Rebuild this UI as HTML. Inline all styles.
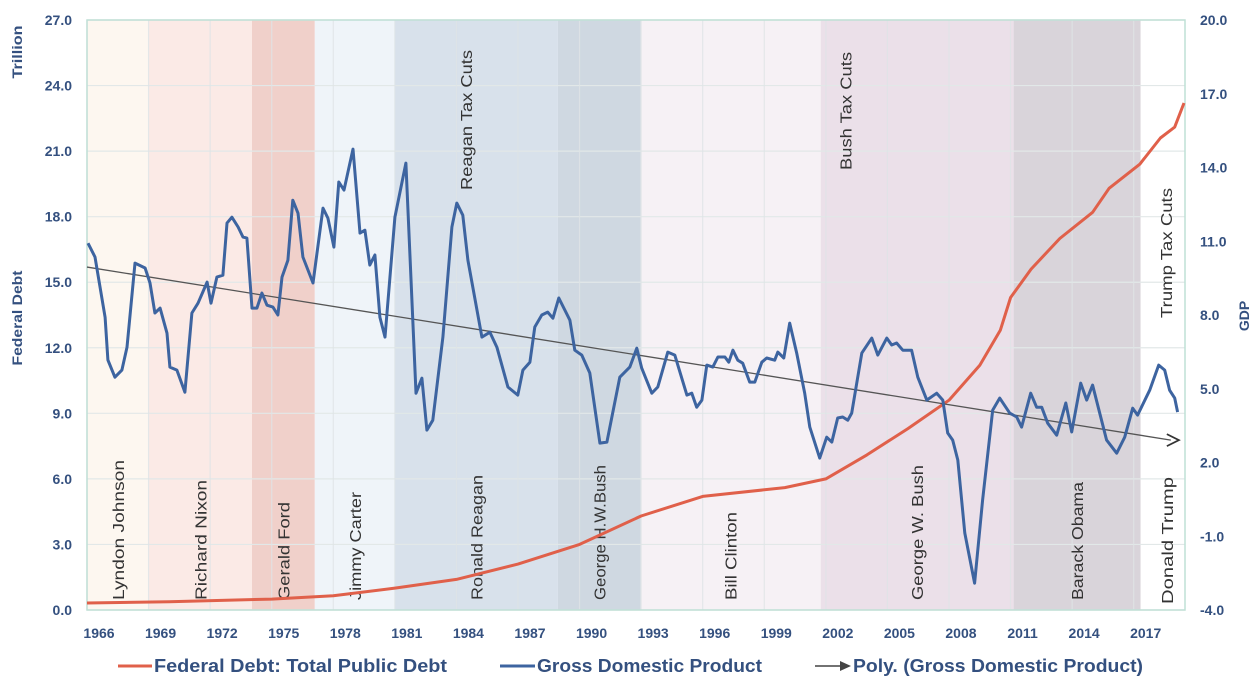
<!DOCTYPE html>
<html><head><meta charset="utf-8"><style>
html,body{margin:0;padding:0;background:#fff;}
svg{display:block;font-family:"Liberation Sans",sans-serif;}
</style></head><body>
<svg id="chart" width="1254" height="690" viewBox="0 0 1254 690">
<g id="bands"></g>
<g id="grid"></g>
<rect x="87" y="20" width="1098" height="590" fill="none" stroke="#bfe0d6" stroke-width="1.5"/>
<g id="labels"></g>
<g id="series"></g>
<g id="axes"></g>
<text transform="translate(22,52) rotate(-90)" text-anchor="middle" font-size="14" font-weight="bold" fill="#34507f" textLength="53" lengthAdjust="spacingAndGlyphs">Trillion</text>
<text transform="translate(22,318) rotate(-90)" text-anchor="middle" font-size="14" font-weight="bold" fill="#34507f" textLength="95" lengthAdjust="spacingAndGlyphs">Federal Debt</text>
<text transform="translate(1249,316) rotate(-90)" text-anchor="middle" font-size="14" font-weight="bold" fill="#34507f">GDP</text>
<g>
<line x1="118" y1="666" x2="152" y2="666" stroke="#e0604a" stroke-width="3"/>
<text x="154" y="672" font-size="18" font-weight="bold" fill="#34507f" textLength="293" lengthAdjust="spacingAndGlyphs">Federal Debt: Total Public Debt</text>
<line x1="500" y1="666" x2="535" y2="666" stroke="#3d64a0" stroke-width="3"/>
<text x="537" y="672" font-size="18" font-weight="bold" fill="#34507f" textLength="225" lengthAdjust="spacingAndGlyphs">Gross Domestic Product</text>
<line x1="815" y1="666" x2="846" y2="666" stroke="#444" stroke-width="1.5"/>
<path d="M840,661 L851,666 L840,671 Z" fill="#444"/>
<text x="853" y="672" font-size="18" font-weight="bold" fill="#34507f" textLength="290" lengthAdjust="spacingAndGlyphs">Poly. (Gross Domestic Product)</text>
</g>
</svg>
<script>
const xTicks=[1966,1969,1972,1975,1978,1981,1984,1987,1990,1993,1996,1999,2002,2005,2008,2011,2014,2017];
const leftTicks=[0,3,6,9,12,15,18,21,24,27];
const rightTicks=[-4,-1,2,5,8,11,14,17,20];
const presNames=["Lyndon Johnson","Richard Nixon","Gerald Ford","Jimmy Carter","Ronald Reagan","George H.W.Bush","Bill Clinton","George W. Bush","Barack Obama","Donald Trump"];
const presStart=[1966,1969,1974.04,1977.1,1981,1988.94,1992.98,2001.75,2011.15,2017.34];
const presEnd=[1969,1974.04,1977.1,1981,1988.94,1992.98,2001.75,2011.15,2017.34,2019.5];
const presColors=["#fdf7f0","#fbeae6","#f0d0ca","#eff4f9","#d8e1eb","#cfd8e1","#f6f1f5","#ebe0e9","#d9d4da","#ffffff"];
const presLabelLen=[140,120,98,108,125,135,88,135,118,127];
const taxNames=["Reagan Tax Cuts","Bush Tax Cuts","Trump Tax Cuts"];
const taxYears=[1985.0,2003.5,2019.1];
const taxLabelLen=[140,118,130];
const debtYears=[1966,1970,1975,1978,1981,1984,1987,1990,1993,1996,2000,2002,2004,2006,2008,2009.5,2010.5,2011,2012,2013.4,2015,2015.8,2017.3,2018.3,2019,2019.45];
const debtVals=[0.32,0.38,0.5,0.65,1.0,1.4,2.1,3.0,4.3,5.2,5.6,6.0,7.1,8.3,9.6,11.2,12.8,14.3,15.6,17.0,18.2,19.3,20.4,21.6,22.1,23.2];
const gdpYears=[1966.05,1966.39,1966.88,1967.02,1967.36,1967.70,1967.95,1968.34,1968.83,1969.07,1969.31,1969.56,1969.90,1970.04,1970.38,1970.77,1971.11,1971.41,1971.85,1972.04,1972.33,1972.62,1972.82,1973.06,1973.36,1973.60,1973.79,1974.04,1974.28,1974.52,1974.77,1975.06,1975.30,1975.50,1975.79,1976.03,1976.28,1976.52,1977.01,1977.50,1977.74,1978.03,1978.27,1978.52,1978.96,1979.30,1979.54,1979.78,1980.03,1980.27,1980.52,1981.00,1981.54,1982.03,1982.32,1982.56,1982.85,1983.34,1983.78,1984.02,1984.31,1984.56,1985.24,1985.63,1985.97,1986.51,1986.99,1987.24,1987.58,1987.82,1988.16,1988.45,1988.70,1988.99,1989.53,1989.77,1990.11,1990.50,1990.99,1991.33,1991.96,1992.45,1992.79,1993.03,1993.52,1993.81,1994.30,1994.64,1995.23,1995.47,1995.71,1995.96,1996.20,1996.49,1996.74,1997.08,1997.27,1997.47,1997.71,1997.95,1998.29,1998.54,1998.88,1999.12,1999.51,1999.66,1999.95,2000.24,2000.58,2000.97,2001.22,2001.70,2002.04,2002.29,2002.58,2002.82,2003.07,2003.26,2003.75,2004.24,2004.53,2004.97,2005.21,2005.45,2005.75,2006.18,2006.48,2006.92,2007.40,2007.70,2007.94,2008.18,2008.43,2008.77,2009.25,2009.64,2010.13,2010.47,2010.96,2011.30,2011.54,2011.98,2012.27,2012.52,2012.81,2013.25,2013.69,2013.98,2014.42,2014.71,2015.00,2015.68,2016.17,2016.56,2016.95,2017.19,2017.78,2018.22,2018.51,2018.75,2019.00,2019.14];
const gdpVals=[10.92,10.36,7.91,6.17,5.47,5.76,6.69,10.11,9.91,9.30,8.08,8.28,7.26,5.88,5.76,4.86,8.08,8.48,9.34,8.48,9.54,9.62,11.74,11.98,11.58,11.17,11.13,8.28,8.28,8.89,8.40,8.32,8.00,9.54,10.23,12.67,12.14,10.36,9.30,12.35,11.94,10.76,13.41,13.08,14.75,11.33,11.45,10.03,10.44,7.91,7.10,11.98,14.18,4.82,5.43,3.32,3.72,7.10,11.58,12.55,12.06,10.23,7.10,7.30,6.69,5.07,4.74,5.76,6.08,7.51,8.00,8.12,7.87,8.69,7.79,6.57,6.37,5.64,2.79,2.83,5.47,5.88,6.65,5.84,4.82,5.07,6.49,6.37,4.74,4.82,4.25,4.54,5.96,5.88,6.29,6.29,6.08,6.57,6.16,6.04,5.27,5.27,6.08,6.25,6.16,6.49,6.25,7.67,6.45,4.82,3.44,2.18,3.03,2.83,3.81,3.85,3.72,4.01,6.45,7.06,6.37,7.06,6.78,6.86,6.57,6.57,5.47,4.54,4.82,4.54,3.20,2.91,2.10,-0.87,-2.91,0.47,4.13,4.62,4.01,3.85,3.44,4.82,4.25,4.25,3.60,3.11,4.42,3.24,5.23,4.54,5.15,2.91,2.38,3.03,4.21,3.93,4.94,5.96,5.76,4.94,4.62,4.05];
const trendYears=[1966,2019.2];
const trendVals=[9.95,2.91];

const NS="http://www.w3.org/2000/svg";
const PL=87,PR=1185,PT=20,PB=610,X0=1966,X1=2019.5;
const xs=y=>PL+(y-X0)/(X1-X0)*(PR-PL);
const yl=v=>PB-v/27*(PB-PT);
const yr=v=>PB-(v+4)/24*(PB-PT);
function mk(tag,attrs,parent){const e=document.createElementNS(NS,tag);for(const k in attrs)e.setAttribute(k,attrs[k]);parent.appendChild(e);return e;}
const bands=document.getElementById('bands'),grid=document.getElementById('grid'),labels=document.getElementById('labels'),series=document.getElementById('series'),axes=document.getElementById('axes');
presNames.forEach((n,i)=>{
 const r=mk('rect',{x:xs(presStart[i]),y:PT,width:xs(presEnd[i])-xs(presStart[i]),height:PB-PT,fill:presColors[i]},bands);
 
 
 const cx=(xs(presStart[i])+xs(presEnd[i]))/2+(i==9?4:0);
 const t=mk('text',{transform:`translate(${cx+6},${i==9?604:600}) rotate(-90)`,'font-size':'16',fill:'#333',textLength:presLabelLen[i],lengthAdjust:'spacingAndGlyphs'},labels);
 t.textContent=n;
 
 
});
leftTicks.forEach(v=>{
 const l=mk('line',{x1:PL,x2:PR,y1:yl(v),y2:yl(v),stroke:'#e2e8e8','stroke-width':1.2},grid);
 
 
 const t=mk('text',{x:72,y:yl(v)+5,'text-anchor':'end','font-size':'14','font-weight':'bold',fill:'#34507f'},axes);
 t.textContent=v.toFixed(1);
 
 
});
rightTicks.forEach(v=>{
 const t=mk('text',{x:1200,y:yr(v)+5,'font-size':'14','font-weight':'bold',fill:'#34507f'},axes);
 t.textContent=v.toFixed(1);
 
 
});
xTicks.forEach(y=>{
 const l=mk('line',{x1:xs(y),x2:xs(y),y1:PT,y2:PB,stroke:'#dfe4e6','stroke-width':1.2,'stroke-opacity':0.8},grid);
 
 
 const t=mk('text',{x:xs(y)+12,y:638,'text-anchor':'middle','font-size':'14','font-weight':'bold',fill:'#34507f'},axes);
 t.textContent=y;
 
 
});
taxNames.forEach((n,i)=>{
 const top=[50,52,188][i];
 const t=mk('text',{transform:`translate(${xs(taxYears[i])-5},${top}) rotate(-90)`,'text-anchor':'end','font-size':'16',fill:'#333',textLength:taxLabelLen[i],lengthAdjust:'spacingAndGlyphs'},labels);
 t.textContent=n;
 
 
});
const dPath=debtYears.map((y,i)=>(i?'L':'M')+xs(y).toFixed(1)+','+yl(debtVals[i]).toFixed(1)).join(' ');
const debt=mk('path',{d:dPath,fill:'none',stroke:'#e0604a','stroke-width':3,'stroke-linejoin':'round'},series);


const tr=mk('line',{x1:xs(trendYears[0]),y1:yr(trendVals[0]),x2:xs(trendYears[1])-8,y2:yr(trendVals[1]),stroke:'#555','stroke-width':1.3},series);


const ex=xs(trendYears[1]),ey=yr(trendVals[1]);
const ah=mk('path',{d:`M${ex-12},${ey-6} L${ex},${ey} L${ex-12},${ey+6}`,fill:'none',stroke:'#333','stroke-width':1.8},series);


const gPath=gdpYears.map((y,i)=>(i?'L':'M')+xs(y).toFixed(1)+','+yr(gdpVals[i]).toFixed(1)).join(' ');
const gdp=mk('path',{d:gPath,fill:'none',stroke:'#3d64a0','stroke-width':3,'stroke-linejoin':'round'},series);


</script>
</body></html>
